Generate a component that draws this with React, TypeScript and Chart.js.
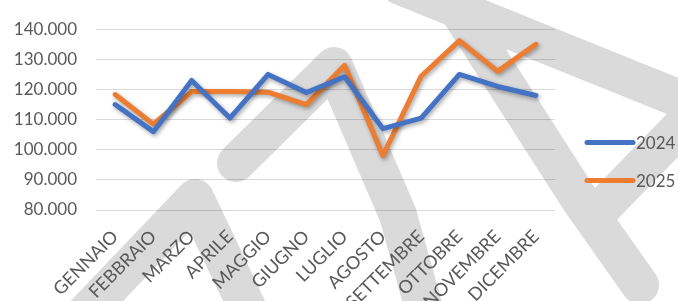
import React, { useEffect, useRef } from "react";
import { Chart, registerables } from "chart.js";

Chart.register(...registerables);

const categories = [
  "GENNAIO", "FEBBRAIO", "MARZO", "APRILE", "MAGGIO", "GIUGNO",
  "LUGLIO", "AGOSTO", "SETTEMBRE", "OTTOBRE", "NOVEMBRE", "DICEMBRE",
];
const series2024 = [115000, 106000, 123000, 110500, 125000, 119000, 124200, 107000, 110500, 125000, 121000, 118000];
const series2025 = [118300, 108500, 119300, 119300, 119100, 115000, 128000, 98000, 124400, 136200, 126000, 135000];
const seriesLabels = ["2024", "2025"];
const seriesColors = ["#4472C4", "#ED7D31"];
const yMin = 80000;
const yMax = 140000;
const yStep = 10000;

const FONT = "Lato, 'Open Sans', sans-serif";
const TEXT = "#595959";

const fmt = (v: number) => {
  const s = Math.round(v).toString();
  return s.replace(/\B(?=(\d{3})+(?!\d))/g, ".");
};

// decorative watermark strokes (background only)
const watermark: number[][][] = [
  [[55, 345], [195, 198], [265, 345]],
  [[236, 163], [334, 66], [398, 215], [430, 330]],
  [[439, -20], [580, 200], [640, 285]],
  [[400, -14], [700, 107]],
  [[700, 107], [598, 212]],
];

const watermarkPlugin = {
  id: "wm",
  beforeDraw(chart: any) {
    const ctx = chart.ctx;
    ctx.save();
    ctx.strokeStyle = "#dadada";
    ctx.lineWidth = 38;
    ctx.lineJoin = "round";
    ctx.lineCap = "round";
    for (const pts of watermark) {
      ctx.beginPath();
      pts.forEach((p, i) => (i ? ctx.lineTo(p[0], p[1]) : ctx.moveTo(p[0], p[1])));
      ctx.stroke();
    }
    ctx.restore();
  },
};

const shadowPlugin = {
  id: "shadow",
  beforeDatasetDraw(chart: any) {
    const ctx = chart.ctx;
    ctx.save();
    ctx.shadowColor = "rgba(0,0,0,0.35)";
    ctx.shadowBlur = 4;
    ctx.shadowOffsetX = 1.5;
    ctx.shadowOffsetY = 2;
  },
  afterDatasetDraw(chart: any) {
    chart.ctx.restore();
  },
};

const legendPlugin = {
  id: "customLegend",
  afterDraw(chart: any) {
    const ctx = chart.ctx;
    const x0 = chart.chartArea.right + 32;
    const yc = chart.height / 2 + 11;
    const gap = 38;
    const n = chart.data.datasets.length;
    ctx.save();
    chart.data.datasets.forEach((ds: any, i: number) => {
      const y = yc + (i - (n - 1) / 2) * gap;
      ctx.strokeStyle = ds.borderColor;
      ctx.lineWidth = 5;
      ctx.lineCap = "round";
      ctx.beginPath();
      ctx.moveTo(x0, y);
      ctx.lineTo(x0 + 46, y);
      ctx.stroke();
      ctx.fillStyle = TEXT;
      ctx.font = `17px ${FONT}`;
      ctx.textBaseline = "middle";
      ctx.textAlign = "left";
      ctx.fillText(ds.label, x0 + 49, y + 1);
    });
    ctx.restore();
  },
};

export default function App() {
  const ref = useRef<HTMLCanvasElement>(null);
  useEffect(() => {
    if (!ref.current) return;
    const chart = new Chart(ref.current, {
      type: "line",
      data: {
        labels: categories,
        datasets: [
          { label: seriesLabels[0], data: series2024, borderColor: seriesColors[0], backgroundColor: seriesColors[0] },
          { label: seriesLabels[1], data: series2025, borderColor: seriesColors[1], backgroundColor: seriesColors[1] },
        ],
      },
      options: {
        animation: false,
        responsive: false,
        maintainAspectRatio: false,
        layout: { padding: { top: 23, right: 123, bottom: 0, left: 0 } },
        elements: {
          line: { borderWidth: 5, tension: 0, borderJoinStyle: "round", borderCapStyle: "round" },
          point: { radius: 0, hoverRadius: 0 },
        },
        plugins: { legend: { display: false }, tooltip: { enabled: false } },
        scales: {
          x: {
            offset: true,
            grid: { display: false },
            border: { display: false },
            ticks: {
              color: TEXT,
              font: { family: FONT, size: 18 },
              minRotation: 45,
              maxRotation: 45,
              autoSkip: false,
              padding: 8,
            },
            afterFit: (s: any) => { s.height = 91; },
          },
          y: {
            min: yMin,
            max: yMax,
            grid: { color: "rgba(0,0,0,0.15)", lineWidth: 1, drawTicks: false },
            border: { display: false },
            ticks: {
              stepSize: yStep,
              color: TEXT,
              font: { family: FONT, size: 17 },
              padding: 19,
              callback: (v: any) => fmt(Number(v)),
            },
            afterFit: (s: any) => { s.width = 96; },
          },
        },
      },
      plugins: [watermarkPlugin, shadowPlugin, legendPlugin],
    });
    return () => chart.destroy();
  }, []);
  return (
    <div style={{ position: "fixed", left: 0, top: 0, width: 678, height: 301, background: "#fff" }}>
      <canvas ref={ref} width={678} height={301} style={{ width: 678, height: 301, display: "block" }} />
    </div>
  );
}
